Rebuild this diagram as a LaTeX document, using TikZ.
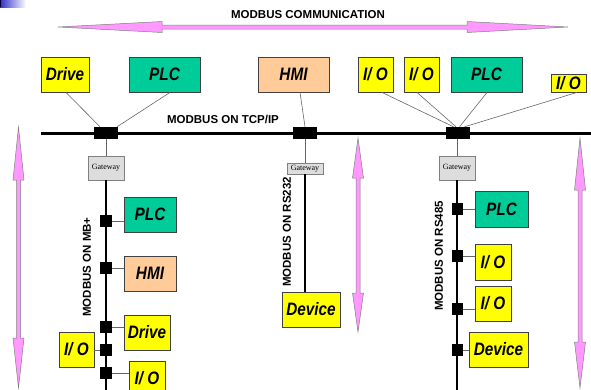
\documentclass[tikz,border=0pt]{standalone}
\usepackage{fontspec}
\setmainfont{Liberation Sans}
\newfontfamily\boxfont[FakeStretch=0.85]{Liberation Sans}
\newfontfamily\gatefont{Liberation Serif}

\definecolor{devyellow}{HTML}{FFFF00}
\definecolor{plcgreen}{HTML}{00CC99}
\definecolor{hmipeach}{HTML}{FFCC99}
\definecolor{gategray}{HTML}{DDDDDD}
\definecolor{arrowpink}{HTML}{FF99FF}
\definecolor{edgegray}{HTML}{404040}
\definecolor{wiregray}{HTML}{666666}
\definecolor{cornerblue}{HTML}{3030C8}

\tikzset{
  unit/.style={draw=edgegray, line width=0.8pt, inner sep=0pt, minimum height=35pt,
    font=\boxfont\bfseries\itshape\fontsize{18}{18}\selectfont},
  yellowbox/.style={unit, fill=devyellow},
  greenbox/.style={unit, fill=plcgreen},
  peachbox/.style={unit, fill=hmipeach},
  gatebox/.style={draw=gray, line width=0.6pt, fill=gategray, inner sep=0pt,
    minimum width=36pt, font=\gatefont\fontsize{8}{8}\selectfont},
  bigtap/.style={fill=black, inner sep=0pt, minimum width=24pt, minimum height=12pt},
  tap/.style={fill=black, inner sep=0pt, minimum width=12pt, minimum height=12pt},
  wire/.style={draw=wiregray, line width=0.6pt},
  bus/.style={draw=black, line width=3pt},
  branchbus/.style={draw=black, line width=2.5pt},
  buslabel/.style={font=\bfseries\fontsize{11.5}{11.5}\selectfont, inner sep=0pt},
  flow/.style={fill=arrowpink, draw=gray, line width=0.5pt, line join=miter}
}

\begin{document}
\begin{tikzpicture}[x=1pt, y=-1pt]
\useasboundingbox (0,0) rectangle (591,389);
\clip (0,0) rectangle (591,389);

% corner ornament
\shade[left color=cornerblue, right color=white] (0,0) rectangle (26,7);
\fill[black!80!blue] (0,0) rectangle (1.2,7);

% overall communication arrow
\node[buslabel] (comm) at (308,15) {MODBUS COMMUNICATION};
\path[flow] (58,27) -- (162,21.5) -- (162,25) -- (467,25) -- (467,21.5) -- (568,27)
  -- (467,32.5) -- (467,29) -- (162,29) -- (162,32.5) -- cycle;

% vertical flow arrows
\path[flow] (18.5,127) -- (24,180) -- (20.5,180) -- (20.5,338) -- (24,338) -- (18.5,388)
  -- (13,338) -- (16.5,338) -- (16.5,180) -- (13,180) -- cycle;
\path[flow] (358,138) -- (363.5,178) -- (360,178) -- (360,293) -- (363.5,293) -- (358,332)
  -- (352.5,293) -- (356,293) -- (356,178) -- (352.5,178) -- cycle;
\path[flow] (580,138) -- (585.5,190) -- (582,190) -- (582,342) -- (585.5,342) -- (580,388)
  -- (574.5,342) -- (578,342) -- (578,190) -- (574.5,190) -- cycle;

% TCP/IP backbone
\coordinate (busW) at (41,133);
\coordinate (busE) at (592,133);
\draw[bus] (busW) -- (busE);
\node[buslabel] (tcplbl) at (223,119) {MODBUS ON TCP/IP};

\node[bigtap] (jl) at (106,133) {};
\node[bigtap] (jm) at (305,133) {};
\node[bigtap] (jr) at (457.5,133) {};

% devices on the backbone
\node[yellowbox, minimum width=48pt] (drv) at (65,74.5) {Drive};
\node[greenbox, minimum width=71pt] (plc) at (164.5,74.5) {PLC};
\node[peachbox, minimum width=71pt] (hmi) at (293.5,74.5) {HMI};
\node[yellowbox, minimum width=35pt] (ioa) at (375.5,74.5) {I/ O};
\node[yellowbox, minimum width=35pt] (iob) at (421.5,74.5) {I/ O};
\node[greenbox, minimum width=71pt] (plcr) at (486.5,74.5) {PLC};
\node[yellowbox, minimum width=35pt, minimum height=18pt] (ios) at (568.5,83) {I/ O};

\draw[wire] ([xshift=1pt]drv.south) -- ([xshift=-6pt]jl.north);
\draw[wire] ([xshift=5.5pt]plc.south) -- ([xshift=11pt]jl.north);
\draw[wire] ([xshift=6.5pt]hmi.south) -- (jm.north);
\draw[wire] ([xshift=6.5pt]ioa.south) -- ([xshift=-4pt]jr.north);
\draw[wire] ([xshift=-4.5pt]iob.south) -- ([xshift=-1.5pt]jr.north);
\draw[wire] ([xshift=0.5pt]plcr.south) -- ([xshift=2pt]jr.north);
\draw[wire] ([xshift=8.5pt]ios.south) -- ([xshift=7pt]jr.north);

% gateways
\node[gatebox, minimum height=24pt] (gl) at (106,168) {Gateway};
\node[gatebox, minimum height=11pt] (gm) at (305,168.5) {Gateway};
\node[gatebox, minimum height=24pt] (gr) at (457,168) {Gateway};
\draw[wire] (jl.south) -- (gl.north);
\draw[wire] (jm.south) -- (gm.north);
\draw[wire] (jr.south -| gr.north) -- (gr.north);

% MB+ branch
\coordinate (lend) at (106,392);
\draw[branchbus] (gl.south) -- (lend);
\node[buslabel, rotate=90] (mblbl) at (87,267) {MODBUS ON MB+};
\node[tap] (jl1) at (106,221) {};
\node[tap] (jl2) at (106,268) {};
\node[tap] (jl3) at (106,327) {};
\node[tap] (jl4) at (106,350) {};
\node[tap] (jl5) at (106,373) {};
\node[greenbox, minimum width=52pt] (lplc) at (150,214.5) {PLC};
\node[peachbox, minimum width=52pt] (lhmi) at (150,273.5) {HMI};
\node[yellowbox, minimum width=46pt] (ldrv) at (147,332.5) {Drive};
\node[yellowbox, minimum width=35pt] (lio1) at (76.5,349.5) {I/ O};
\node[yellowbox, minimum width=36pt] (lio2) at (147,378.5) {I/ O};
\draw[wire] (jl1.east) -- (jl1.east -| lplc.west);
\draw[wire] (jl2.east) -- (jl2.east -| lhmi.west);
\draw[wire] (jl3.east) -- (jl3.east -| ldrv.west);
\draw[wire] (jl4.west) -- (jl4.west -| lio1.east);
\draw[wire] (jl5.east) -- (jl5.east -| lio2.west);

% RS232 branch
\node[yellowbox, minimum width=58pt] (mdev) at (311,309.5) {Device};
\draw[branchbus] (gm.south) -- (gm.south |- mdev.north);
\node[buslabel, rotate=90] (rs232lbl) at (287,232) {MODBUS ON RS232};

% RS485 branch
\coordinate (rend) at (457,392);
\draw[branchbus] (gr.south) -- (rend);
\node[buslabel, rotate=90] (rs485lbl) at (439,256) {MODBUS ON RS485};
\node[tap, minimum width=11pt] (jr1) at (457.5,209) {};
\node[tap, minimum width=11pt] (jr2) at (457.5,256) {};
\node[tap, minimum width=11pt] (jr3) at (457.5,309) {};
\node[tap, minimum width=11pt] (jr4) at (457.5,350) {};
\node[greenbox, minimum width=53pt, minimum height=36pt] (rplc) at (501.5,209) {PLC};
\node[yellowbox, minimum width=36pt, minimum height=36pt] (rio1) at (493,262) {I/ O};
\node[yellowbox, minimum width=36pt] (rio2) at (493,303.5) {I/ O};
\node[yellowbox, minimum width=59pt] (rdev) at (498.5,349.5) {Device};
\draw[wire] (jr1.east) -- (jr1.east -| rplc.west);
\draw[wire] (jr2.east) -- (jr2.east -| rio1.west);
\draw[wire] (jr3.east) -- (jr3.east -| rio2.west);
\draw[wire] (jr4.east) -- (jr4.east -| rdev.west);
\end{tikzpicture}
\end{document}
